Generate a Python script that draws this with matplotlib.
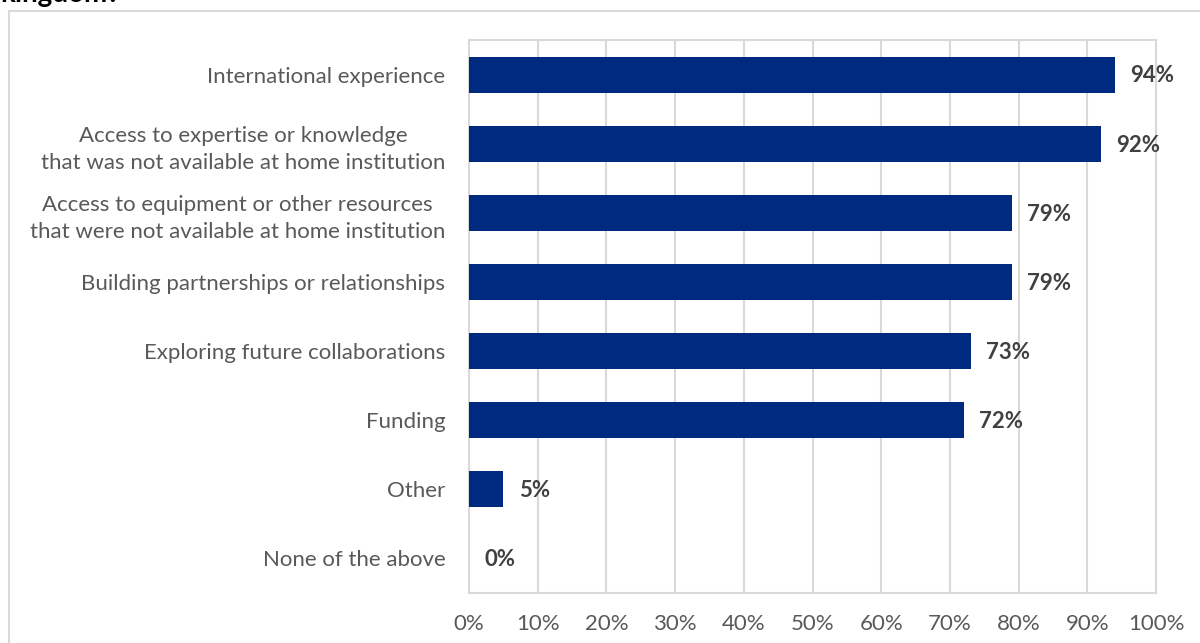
import matplotlib.pyplot as plt
from matplotlib.lines import Line2D
import numpy as np

plt.rcParams['font.family'] = ['Lato', 'DejaVu Sans']

categories = ['International experience',
              'Access to expertise or knowledge\nthat was not available at home institution',
              'Access to equipment or other resources\nthat were not available at home institution',
              'Building partnerships or relationships',
              'Exploring future collaborations',
              'Funding',
              'Other',
              'None of the above']
shares = [94, 92, 79, 79, 73, 72, 5, 0]
xticks = list(range(0, 101, 10))

bar_color = '#002a7f'
grid_color = '#d9d9d9'
label_color = '#595959'
value_color = '#404040'

fig = plt.figure(figsize=(12, 6.43), dpi=100)
ax = fig.add_axes([469/1200, 1 - 593/643, 687/1200, 553/643])

y = np.arange(len(categories))
ax.barh(y, shares, height=0.52, color=bar_color, zorder=3)
for yi, v in zip(y, shares):
    ax.annotate(f'{v}%', (v, yi), xytext=(11, -1), textcoords='offset points',
                va='center', ha='left', fontsize=16, fontweight='bold',
                color=value_color)

ax.set_ylim(len(categories) - 0.5, -0.5)
ax.set_xlim(0, 100)
ax.set_yticks(y)
ax.set_yticklabels(categories, fontsize=16, color=label_color,
                   multialignment='center', linespacing=1.45)
ax.set_xticks(xticks)
ax.set_xticklabels([f'{t}%' for t in xticks], fontsize=16, color=label_color)
ax.tick_params(axis='both', length=0)
ax.tick_params(axis='y', pad=17)
ax.tick_params(axis='x', pad=15)
ax.xaxis.grid(True, color=grid_color, linewidth=1.5, zorder=0)
for s in ax.spines.values():
    s.set_color(grid_color)
    s.set_linewidth(1.5)

# outer chart border (runs off the right and bottom edges)
fig.add_artist(Line2D([9/1200, 9/1200], [0, 1 - 11/643], color=grid_color,
                      linewidth=1.5, transform=fig.transFigure))
fig.add_artist(Line2D([9/1200, 1], [1 - 11/643, 1 - 11/643], color=grid_color,
                      linewidth=1.5, transform=fig.transFigure))
# tail of the question heading above the chart box
fig.text(0.0, 1 - 2/643, 'kingdom?', fontsize=20, fontweight='bold',
         color='black', va='baseline', ha='left')

fig.savefig('out.png', dpi=100, facecolor='white')
